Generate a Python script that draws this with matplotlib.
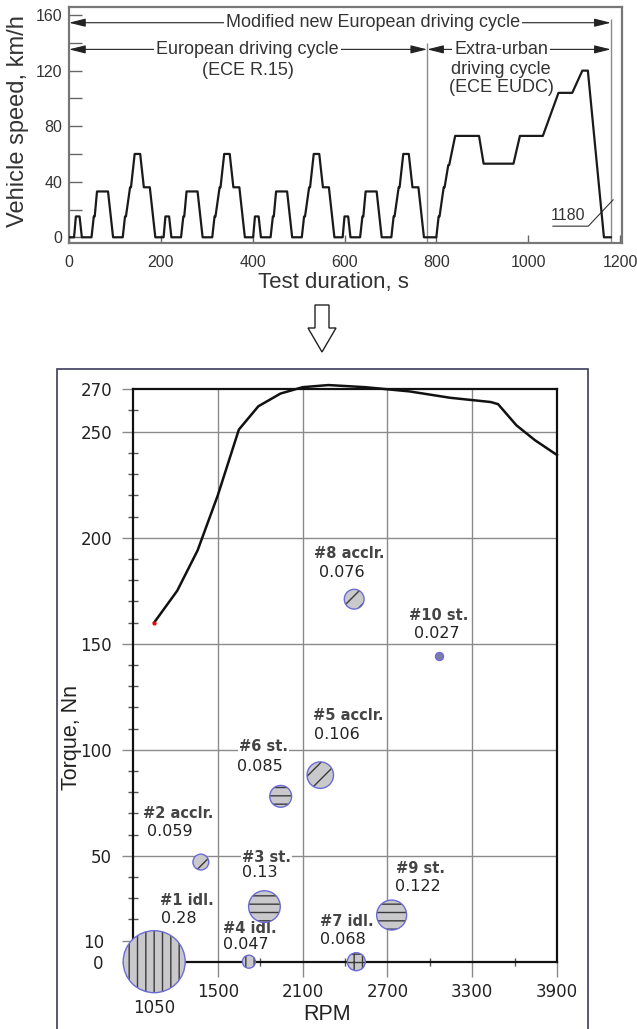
import matplotlib
matplotlib.use("Agg")
import matplotlib.pyplot as plt
from matplotlib.patches import Rectangle, Polygon

W, H, DPI = 637, 1029, 100

# ---------------- data: top chart (speed trace) ----------------
ece_time = [0, 11, 15, 23, 28, 49, 54, 56, 61, 85, 96, 117, 122, 124, 133, 135, 143, 155, 163, 176, 188, 195]
ece_speed = [0, 0, 15, 15, 0, 0, 15, 15, 33, 33, 0, 0, 15, 15, 36, 36, 60, 60, 36, 36, 0, 0]
n_ece_cycles = 4
ece_period = 195
eudc_time = [780, 800, 805, 807, 816, 818, 826, 828, 841, 893, 903, 968, 982, 1032, 1066, 1096, 1118, 1130, 1165, 1180]
eudc_speed = [0, 0, 15, 15, 36, 36, 52, 52, 73, 73, 53, 53, 73, 73, 104, 104, 120, 120, 0, 0]
speed_ticks = [0, 40, 80, 120, 160]
speed_minor = [20, 60, 100, 140]
time_ticks = [0, 200, 400, 600, 800, 1000, 1200]
ece_end = 780
nedc_end = 1180
cycle_texts = ["Modified new European driving cycle", "European driving cycle", "(ECE R.15)",
               "Extra-urban", "driving cycle", "(ECE EUDC)"]

# ---------------- data: bottom chart ----------------
rpm_curve = [1050, 1213, 1357, 1500, 1649, 1787, 1944, 2100, 2283, 2544, 2857, 3144, 3431, 3483, 3613, 3744, 3900]
torque_curve = [160, 175, 194, 220, 251, 262, 268, 271, 272, 271, 269, 266, 264, 263, 253, 246, 239]

modes = ["#1 idl.", "#2 acclr.", "#3 st.", "#4 idl.", "#5 acclr.", "#6 st.", "#7 idl.", "#8 acclr.", "#9 st.", "#10 st."]
mode_rpm = [1050, 1380, 1830, 1720, 2225, 1945, 2480, 2465, 2730, 3065]
mode_torque = [0, 47, 26, 0, 88, 78, 0, 171, 22, 144]
mode_weight = [0.28, 0.059, 0.13, 0.047, 0.106, 0.085, 0.068, 0.076, 0.122, 0.027]
weight_text = ["0.28", "0.059", "0.13", "0.047", "0.106", "0.085", "0.068", "0.076", "0.122", "0.027"]
rpm_ticks = [1500, 2100, 2700, 3300, 3900]
rpm_minor = [1200, 1800, 2400, 3000, 3600]
torque_ticks = [0, 10, 50, 100, 150, 200, 250, 270]

# ---------------- layout / style (not data) ----------------
hatches = ["||", "//", "--", "||", "//", "--", "++", "//", "--", None]
name_pos = [(1088, 29), (973, 70), (1670, 49.3), (1539, 15.8), (2173, 116), (1651, 101.6),
            (2220, 19), (2178, 192.4), (2758, 43.8), (2851, 163.4)]
value_pos = [(1095, 20.5), (999, 61.6), (1670, 41.9), (1539, 7.9), (2178, 107), (1638, 92),
             (2225, 10.7), (2217, 183.7), (2753, 35.4), (2888, 154.9)]

TOPFONT = ["Liberation Sans", "DejaVu Sans"]
plt.rcParams["hatch.linewidth"] = 1.0


def fig_rect(l, t, r, b):
    return [l / W, 1 - b / H, (r - l) / W, (b - t) / H]


fig = plt.figure(figsize=(W / DPI, H / DPI), dpi=DPI)

# ================= top chart =================
ax1 = fig.add_axes(fig_rect(69, 7.3, 621.7, 242.7))
t_all, v_all = [], []
for k in range(n_ece_cycles):
    t_all += [x + k * ece_period for x in ece_time]
    v_all += ece_speed
t_all += eudc_time
v_all += eudc_speed
ax1.plot(t_all, v_all, color="#1a1a1a", lw=1.6, zorder=3)
ax1.set_xlim(0, 1203.7)
ax1.set_ylim(-3.9, 165.6)

ax1.vlines(ece_end, -3.9, 140, color="#8a8a8a", lw=1.0, zorder=1)
ax1.vlines(nedc_end, -3.9, 157, color="#8a8a8a", lw=1.0, zorder=1)

aprops = dict(arrowstyle="<|-|>,head_length=1.0,head_width=0.25", color="#222222", lw=0.8,
              shrinkA=0, shrinkB=0)
ax1.annotate("", xy=(0, 154.5), xytext=(nedc_end, 154.5), arrowprops=aprops, zorder=2)
ax1.annotate("", xy=(0, 135.3), xytext=(ece_end, 135.3), arrowprops=aprops, zorder=2)
ax1.annotate("", xy=(ece_end, 135.3), xytext=(nedc_end, 135.3), arrowprops=aprops, zorder=2)

tb = dict(fc="white", ec="none", pad=1.5)
tk = dict(ha="center", va="center", fontsize=13, color="#333333", family=TOPFONT, zorder=4)
ax1.text(662, 154.5, cycle_texts[0], bbox=tb, **tk)
ax1.text(388, 135.3, cycle_texts[1], bbox=tb, **tk)
ax1.text(390, 120.4, cycle_texts[2], **tk)
ax1.text(941, 135.3, cycle_texts[3], bbox=tb, **tk)
ax1.text(941, 121, cycle_texts[4], **tk)
ax1.text(941, 107.5, cycle_texts[5], bbox=dict(fc="white", ec="none", pad=0.5), **tk)

ax1.text(1087, 16, str(nedc_end), ha="center", va="center", fontsize=11.5, color="#333333", family=TOPFONT)
ax1.plot([1054, 1131, 1185], [8, 8, 27], color="#333333", lw=0.8)

ax1.set_yticks(speed_ticks)
ax1.set_yticks(speed_minor, minor=True)
ax1.set_xticks(time_ticks)
ax1.tick_params(axis="y", which="both", direction="in", length=9, width=1, color="#666666",
                labelsize=11.5, labelcolor="#333333", pad=5)
ax1.tick_params(axis="x", which="both", direction="in", length=6, width=1, color="#666666",
                labelsize=11.5, labelcolor="#333333", pad=9)
for lab in ax1.get_xticklabels() + ax1.get_yticklabels():
    lab.set_family(TOPFONT)
for s in ax1.spines.values():
    s.set_color("#777777")
    s.set_linewidth(1.6)

ax1.set_ylabel("Vehicle speed, km/h", fontsize=17, color="#333333", family=TOPFONT)
ax1.yaxis.set_label_coords(-0.0923, 0.517)
ax1.yaxis.label.set_va("center")
ax1.set_xlabel("Test duration, s", fontsize=16, color="#333333", family=TOPFONT)
ax1.xaxis.set_label_coords(0.478, -0.167)
ax1.xaxis.label.set_va("center")

# ================= down arrow =================
arrow_px = [(315, 305), (329, 305), (329, 328), (336, 328), (322, 352), (308, 328), (315, 328)]
fig.add_artist(Polygon([(x / W, 1 - y / H) for x, y in arrow_px], closed=True,
                       transform=fig.transFigure, fc="white", ec="#222222", lw=1.0))

# ================= outer box =================
fig.add_artist(Rectangle((57 / W, 1 - 1040 / H), (588 - 57) / W, (1040 - 369.3) / H,
                         transform=fig.transFigure, fill=False, ec="#3c3c5c", lw=1.2))

# ================= bottom chart =================
ax2 = fig.add_axes(fig_rect(133, 389.3, 557, 961.7))
ax2.set_xlim(900, 3900)
ax2.set_ylim(0, 270)
for x in rpm_ticks[:-1]:
    ax2.axvline(x, color="#8a8a8a", lw=1.0, zorder=0.5)
for y in torque_ticks[2:-1]:
    ax2.axhline(y, color="#8a8a8a", lw=1.0, zorder=0.5)

ax2.plot(rpm_curve, torque_curve, color="#111111", lw=1.8, clip_on=False, zorder=3)
ax2.plot(rpm_curve[0], torque_curve[0], "o", ms=2, color="red", clip_on=False, zorder=3.5)

for i in range(len(modes)):
    r_px = 31 * (mode_weight[i] / 0.28) ** 0.876
    s = (2 * r_px * 72 / DPI) ** 2
    if hatches[i] is None:
        ax2.scatter([mode_rpm[i]], [mode_torque[i]], s=s, facecolor="#7c7cab", edgecolor="#6b6bd6",
                    linewidths=1.0, clip_on=False, zorder=5)
    else:
        ax2.scatter([mode_rpm[i]], [mode_torque[i]], s=s, facecolor="#c9c9cc", edgecolor="#3a3a3a",
                    linewidths=0, hatch=hatches[i], clip_on=False, zorder=4)
        ax2.scatter([mode_rpm[i]], [mode_torque[i]], s=s, facecolor="none", edgecolor="#6b6bd6",
                    linewidths=1.0, clip_on=False, zorder=5)
    ax2.text(name_pos[i][0], name_pos[i][1], modes[i], fontsize=10.5, fontweight="bold", color="#444444",
             ha="left", va="center", bbox=dict(fc="white", ec="none", pad=0.8), zorder=2)
    ax2.text(value_pos[i][0], value_pos[i][1], weight_text[i], fontsize=11.5, color="#222222",
             ha="left", va="center", bbox=dict(fc="white", ec="none", pad=0.8), zorder=2)

ax2.set_xticks(rpm_ticks)
ax2.set_xticks(rpm_minor, minor=True)
ax2.set_yticks(torque_ticks)
ax2.set_yticks([v for v in range(20, 270, 10) if v not in torque_ticks], minor=True)
ax2.tick_params(axis="x", which="major", direction="out", length=11, width=1, color="#8a8a8a",
                labelsize=12, labelcolor="#222222", pad=4)
ax2.tick_params(axis="x", which="minor", direction="inout", length=6, width=1, color="#555555")
ax2.tick_params(axis="y", which="major", direction="out", length=8, width=1, color="#8a8a8a",
                labelsize=12, labelcolor="#222222", pad=7)
ax2.tick_params(axis="y", which="minor", direction="inout", length=7, width=1, color="#555555")
yt = ax2.yaxis.get_major_ticks()
yt[0].set_pad(13)
yt[1].set_pad(13)
ax2.text(1050, -0.081, "1050", transform=ax2.get_xaxis_transform(), ha="center", va="center",
         fontsize=12, color="#222222")
for s in ax2.spines.values():
    s.set_color("#111111")
    s.set_linewidth(1.6)

ax2.set_xlabel("RPM", fontsize=15.5, color="#222222", family=TOPFONT)
ax2.xaxis.set_label_coords(0.4575, -0.0931)
ax2.xaxis.label.set_va("center")
ax2.set_ylabel("Torque, Nn", fontsize=15.5, color="#222222", family=TOPFONT)
ax2.yaxis.set_label_coords(-0.146, 0.391)
ax2.yaxis.label.set_va("center")

fig.savefig("out.png", dpi=DPI)
